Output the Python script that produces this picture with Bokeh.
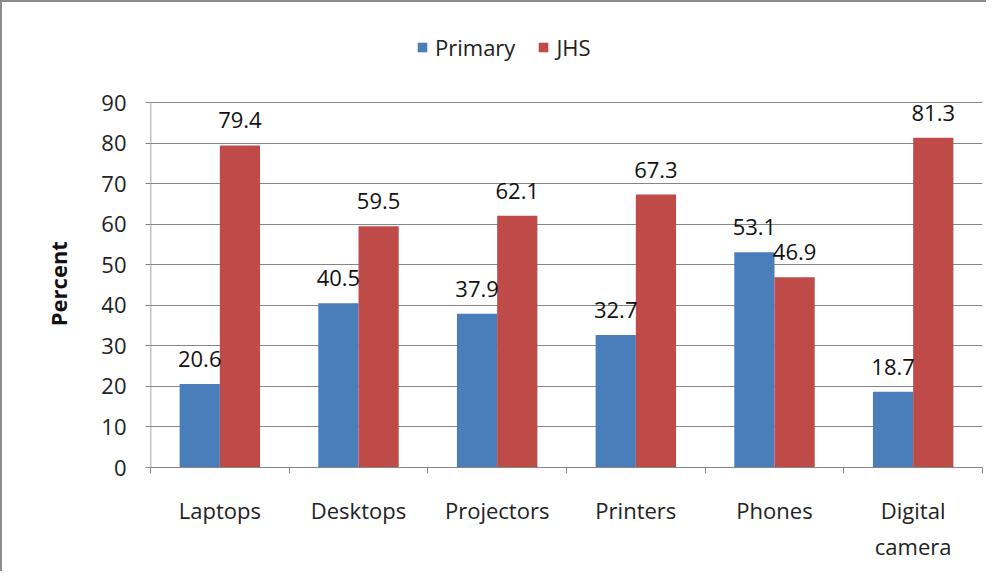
from bokeh.plotting import figure
from bokeh.models import ColumnDataSource, FixedTicker, Range1d, Legend, LegendItem, LabelSet
from bokeh.transform import dodge
from bokeh.core.properties import value
from bokeh.embed import file_html
from bokeh.resources import INLINE

categories = ["Laptops", "Desktops", "Projectors", "Printers", "Phones", "Digital\ncamera"]
primary = [20.6, 40.5, 37.9, 32.7, 53.1, 18.7]
jhs = [79.4, 59.5, 62.1, 67.3, 46.9, 81.3]
y_ticks = [0, 10, 20, 30, 40, 50, 60, 70, 80, 90]

pos = [i + 0.5 for i in range(len(categories))]
src = ColumnDataSource(dict(
    x=pos, primary=primary, jhs=jhs,
    plab=[f"{v:.1f}" for v in primary], jlab=[f"{v:.1f}" for v in jhs],
))

FONT = "Open Sans"
FS = "22px"
BLUE = "#4A7EBB"
RED = "#BE4B48"
GREY = "#868686"

AXIS_H = 365          # pixel height of the 0..90 axis
EXTRA = 77            # room above the axis for the legend
FH = AXIS_H + EXTRA
y_max = y_ticks[-1]
y_end = y_max * FH / AXIS_H

p = figure(width=984, height=569, output_backend="svg", toolbar_location=None,
           x_range=Range1d(0, len(categories)), y_range=Range1d(0, y_end),
           frame_width=832, frame_height=FH,
           min_border_left=148, min_border_top=23, min_border_right=4, min_border_bottom=104)
p.styles = {"border-left": "2px solid #8c8c8c", "border-top": "2px solid #8c8c8c"}
p.outline_line_color = None

bw = 0.29
r1 = p.vbar(x=dodge("x", -bw / 2, range=p.x_range), top="primary", width=bw, source=src,
            fill_color=BLUE, line_color=None)
r2 = p.vbar(x=dodge("x", bw / 2, range=p.x_range), top="jhs", width=bw, source=src,
            fill_color=RED, line_color=None)

for col, off in (("plab", -bw / 2), ("jlab", bw / 2)):
    top = "primary" if col == "plab" else "jhs"
    p.add_layout(LabelSet(x=dodge("x", off, range=p.x_range), y=top, text=col, source=src,
                          text_align="center", text_baseline="middle", y_offset=25,
                          text_font=value(FONT), text_font_size=value(FS),
                          text_color="#111111"))

# axes
p.xgrid.visible = False
p.ygrid.grid_line_color = GREY
p.ygrid.ticker = FixedTicker(ticks=y_ticks)

ya = p.yaxis[0]
ya.ticker = FixedTicker(ticks=y_ticks, minor_ticks=[])
ya.axis_line_color = None
ya.major_tick_line_color = GREY
ya.major_tick_out = 5
ya.major_tick_in = 0
ya.minor_tick_line_color = None
ya.major_label_text_font = FONT
ya.major_label_text_font_size = FS
ya.major_label_text_color = "#222222"
ya.major_label_standoff = 19
# trailing no-break spaces keep the label centred on the 0..90 span
ya.axis_label = "Percent" + "\u00a0" * 13
ya.axis_label_text_font = FONT
ya.axis_label_text_font_style = "bold"
ya.axis_label_text_font_size = "22px"
ya.axis_label_text_color = "#111111"
ya.axis_label_standoff = 25
# y-axis line only over the 0..90 span
p.segment(x0=[0], y0=[y_ticks[0]], x1=[0], y1=[y_max], line_color=GREY, line_width=1.5)

xa = p.xaxis[0]
xa.ticker = FixedTicker(ticks=pos, minor_ticks=list(range(len(categories) + 1)))
xa.major_label_overrides = {p_: c for p_, c in zip(pos, categories)}
xa.axis_line_color = GREY
xa.major_tick_line_color = None
xa.major_tick_out = 0
xa.major_tick_in = 0
xa.minor_tick_line_color = GREY
xa.minor_tick_out = 6
xa.minor_tick_in = 0
xa.major_label_text_font = FONT
xa.major_label_text_font_size = FS
xa.major_label_text_color = "#222222"
xa.major_label_standoff = 21

legend = Legend(items=[LegendItem(label="Primary", renderers=[r1]),
                       LegendItem(label="JHS", renderers=[r2])],
                orientation="horizontal", location=(266, AXIS_H + 40),
                label_text_font=FONT, label_text_font_size=FS, label_text_color="#222222",
                glyph_width=12, glyph_height=12, spacing=22, label_standoff=7,
                border_line_color=None, background_fill_alpha=0, padding=6, margin=0)
p.add_layout(legend, "center")

open("out.html", "w").write(file_html(p, INLINE))
